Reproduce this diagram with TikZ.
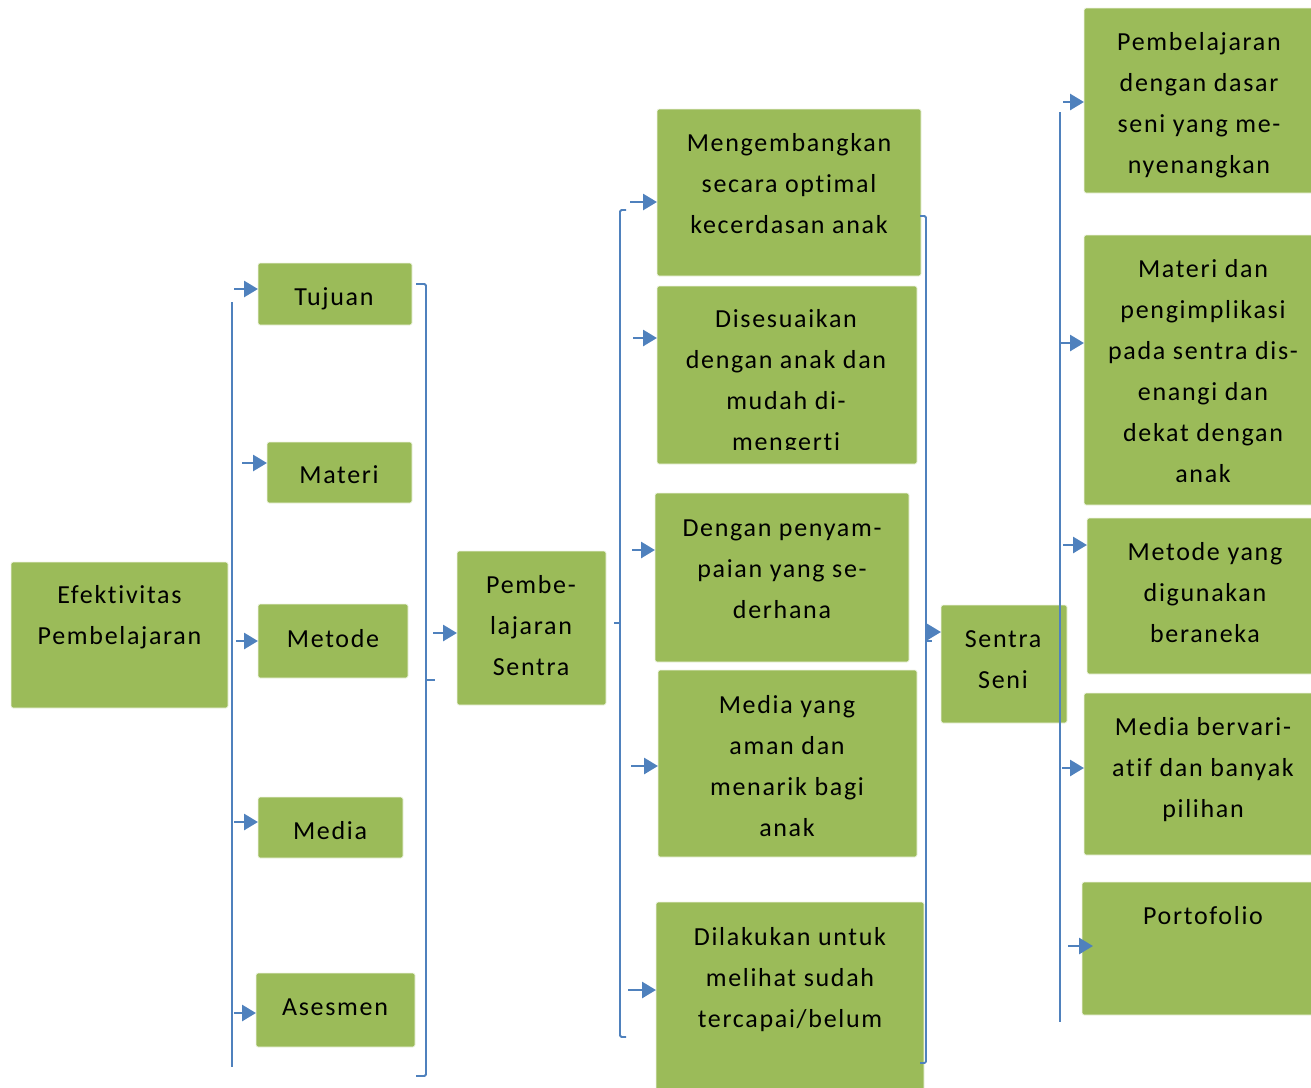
\documentclass[tikz,border=0pt]{standalone}
\usepackage{fontspec}
\setmainfont{Carlito}[LetterSpace=6.5,Ligatures={NoCommon,NoContextual,NoRequired},RawFeature={-liga;-clig;-calt;-dlig}]
\usetikzlibrary{arrows.meta}
\definecolor{boxgreen}{HTML}{9BBB59}
\definecolor{lineblue}{HTML}{4F81BD}
\tikzset{
  box/.style={fill=boxgreen, draw=white!85!boxgreen, line width=0.8pt, rounded corners=2pt, inner sep=0pt, outer sep=0pt},
  lbl/.style={anchor=north, align=center, inner sep=0pt, outer sep=0pt, font=\fontsize{26}{41}\selectfont},
  brk/.style={draw=lineblue, line width=1.8pt, rounded corners=1.5pt},
  arr/.style={draw=lineblue, line width=2.8pt, -{Triangle[length=14pt,width=16pt]}, shorten >=0pt}
}
\newcommand\bx[5]{\node[box, minimum width={(#4-#2)*1pt}, minimum height={(#5-#3)*1pt}] (#1) at ({(#2+#4)/2},{(#3+#5)/2}) {};}
\newcommand\tx[4]{\node[lbl] (#1) at (#2,{#3-20.5}) {\strut #4};}
\begin{document}
\begin{tikzpicture}[x=1pt,y=-1pt]
\useasboundingbox (0,0) rectangle (1311,1087);
% boxes
\bx{efek}{11}{562}{228}{708}
\bx{tuj}{258}{263}{412}{325}
\bx{mat}{267}{442}{412}{503}
\bx{met}{258}{604}{408}{678}
\bx{med}{258}{797}{403}{858}
\bx{ase}{256}{973}{415}{1047}
\bx{pbs}{457}{551}{606}{705}
\bx{m1}{657}{109}{921}{276}
\bx{m2}{657}{286}{917}{464}
\bx{m3}{655}{493}{909}{662}
\bx{m4}{658}{670}{917}{857}
\bx{m5}{656}{902}{924}{1092}
\bx{ss}{941}{605}{1067}{723}
\bx{r1}{1084}{8}{1318}{193}
\bx{r2}{1084}{235}{1318}{505}
\bx{r3}{1087}{518}{1318}{674}
\bx{r4}{1084}{693}{1318}{855}
\bx{r5}{1082}{882}{1318}{1015}
% texts
\tx{tefek}{119.5}{595}{Efektivitas\\Pembelajaran}
\tx{ttuj}{334}{297}{Tujuan}
\tx{tmat}{339}{475}{Materi}
\tx{tmet}{333}{639}{Metode}
\tx{tmed}{330}{831}{Media}
\tx{tase}{335}{1007}{Asesmen}
\tx{tpbs}{531}{585}{Pembe-\\lajaran\\Sentra}
\tx{tm1}{789}{143}{Mengembangkan\\secara optimal\\kecerdasan anak}
\begin{scope}
\clip (657,286) rectangle (917,449);
\tx{tm2}{786}{319}{Disesuaikan\\dengan anak dan\\mudah di-\\mengerti}
\end{scope}
\tx{tm3}{782}{528}{Dengan penyam-\\paian yang se-\\derhana}
\tx{tm4}{787}{705}{Media yang\\aman dan\\menarik bagi\\anak}
\tx{tm5}{790}{937}{Dilakukan untuk\\melihat sudah\\tercapai/belum}
\tx{tss}{1003}{639}{Sentra\\Seni}
\tx{tr1}{1199}{42}{Pembelajaran\\dengan dasar\\seni yang me-\\nyenangkan}
\tx{tr2}{1203}{269}{Materi dan\\pengimplikasi\\pada sentra dis-\\enangi dan\\dekat dengan\\anak}
\tx{tr3}{1205}{552}{Metode yang\\digunakan\\beraneka}
\tx{tr4}{1203}{727}{Media bervari-\\atif dan banyak\\pilihan}
\tx{tr5}{1203}{916}{Portofolio}
% brackets
\draw[brk] (232,302) -- (232,1067);
\draw[brk] (416,284) -- (426,284) -- (426,1076) -- (416,1076);
\draw[brk] (426,680) -- (435,680);
\draw[brk] (626,210) -- (620,210) -- (620,1037) -- (626,1037);
\draw[brk] (620,623) -- (614,623);
\draw[brk] (920,216) -- (926,216) -- (926,1063) -- (920,1063);
\draw[brk] (926,641) -- (932,641);
\draw[brk] (1060,112) -- (1060,1022);
% arrow start coordinates
\coordinate (a1) at (234,289);
\coordinate (a2) at (242,463);
\coordinate (a3) at (236,641);
\coordinate (a4) at (234,822);
\coordinate (a5) at (234,1013);
\coordinate (b0) at (433,633);
\coordinate (c1) at (630,202);
\coordinate (c2) at (633,338);
\coordinate (c3) at (632,550);
\coordinate (c4) at (631,766);
\coordinate (c5) at (628,990);
\coordinate (d0) at (928,632);
\coordinate (e1) at (1063,102);
\coordinate (e2) at (1060,343);
\coordinate (e3) at (1063,545);
\coordinate (e4) at (1062,768);
\coordinate (e5) at (1068,946);
\coordinate (e5t) at (1093,946);
% arrows
\draw[arr] (a1) -- (a1 -| tuj.west);
\draw[arr] (a2) -- (a2 -| mat.west);
\draw[arr] (a3) -- (a3 -| met.west);
\draw[arr] (a4) -- (a4 -| med.west);
\draw[arr] (a5) -- (a5 -| ase.west);
\draw[arr] (b0) -- (b0 -| pbs.west);
\draw[arr] (c1) -- (c1 -| m1.west);
\draw[arr] (c2) -- (c2 -| m2.west);
\draw[arr] (c3) -- (c3 -| m3.west);
\draw[arr] (c4) -- (c4 -| m4.west);
\draw[arr] (c5) -- (c5 -| m5.west);
\draw[arr] (d0) -- (d0 -| ss.west);
\draw[arr] (e1) -- (e1 -| r1.west);
\draw[arr] (e2) -- (e2 -| r2.west);
\draw[arr] (e3) -- (e3 -| r3.west);
\draw[arr] (e4) -- (e4 -| r4.west);
\draw[arr] (e5) -- (e5t);
\end{tikzpicture}
\end{document}
